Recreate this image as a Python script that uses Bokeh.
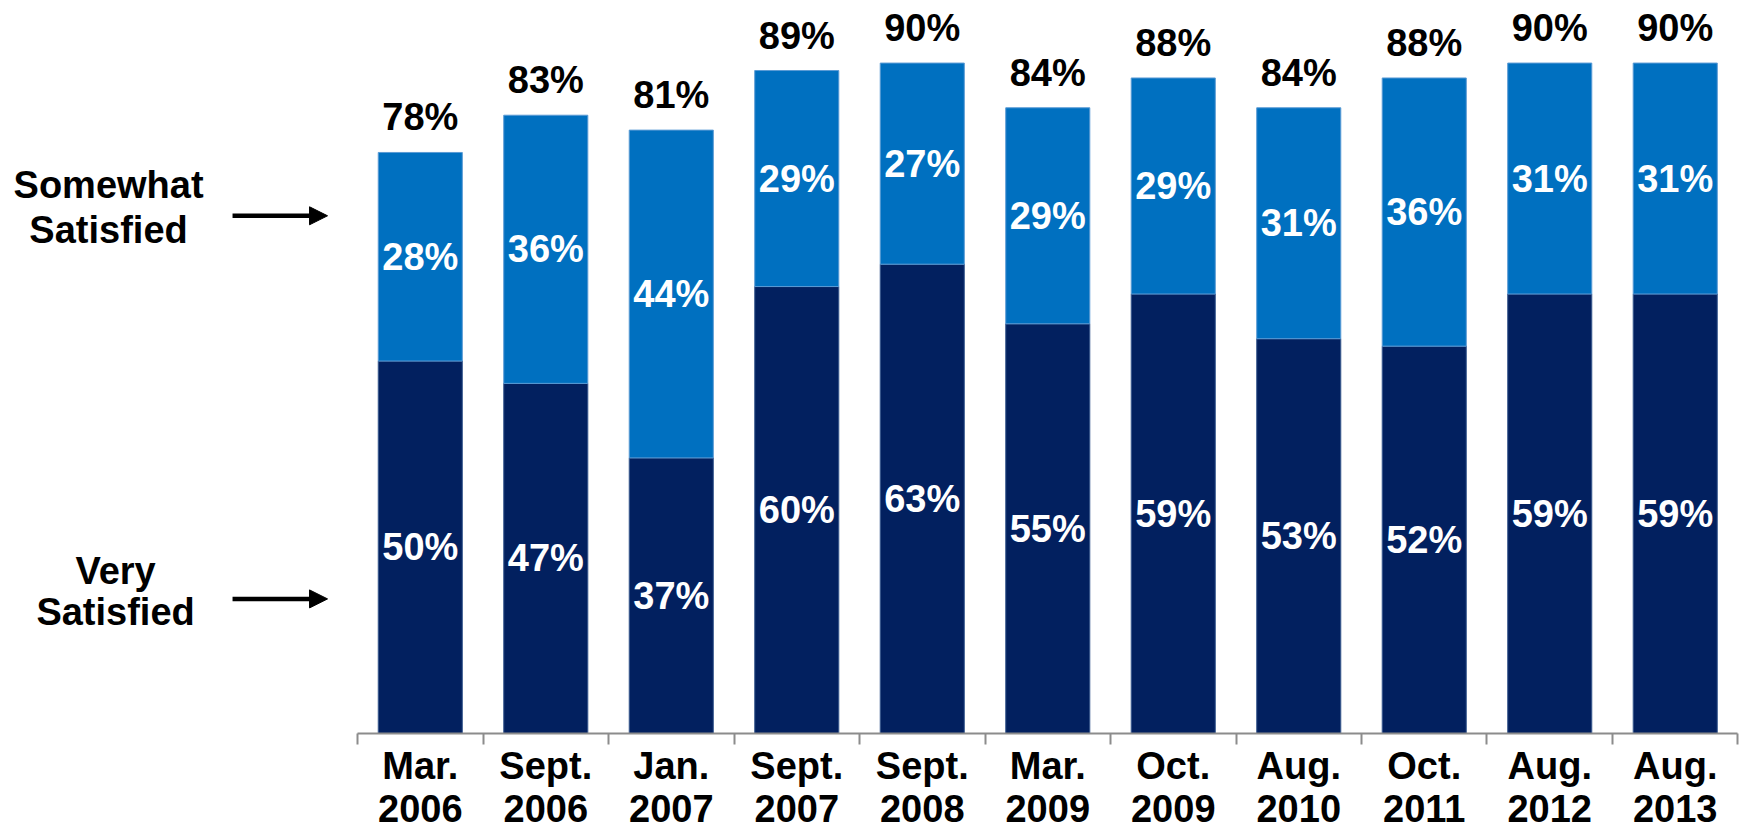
from bokeh.plotting import figure
from bokeh.models import (ColumnDataSource, Range1d, LinearAxis, FixedTicker, Arrow,
                          NormalHead)
from bokeh.core.properties import value
from bokeh.embed import file_html
from bokeh.resources import INLINE

# ---- data ----
categories = ["Mar.\n2006", "Sept.\n2006", "Jan.\n2007", "Sept.\n2007", "Sept.\n2008",
              "Mar.\n2009", "Oct.\n2009", "Aug.\n2010", "Oct.\n2011", "Aug.\n2012", "Aug.\n2013"]
very_satisfied = [50, 47, 37, 60, 63, 55, 59, 53, 52, 59, 59]
somewhat_satisfied = [28, 36, 44, 29, 27, 29, 29, 31, 36, 31, 31]
series_names = ["Very\nSatisfied", "Somewhat\nSatisfied"]

DARK = "#02205F"
LIGHT = "#0070C0"
FONT = "Liberation Sans"
FS = "38px"

n = len(categories)
xs = list(range(n))
totals = [a + b for a, b in zip(very_satisfied, somewhat_satisfied)]
src = ColumnDataSource(dict(
    x=xs,
    very=very_satisfied,
    some_top=totals,
    very_mid=[v / 2 for v in very_satisfied],
    some_mid=[v + s / 2 for v, s in zip(very_satisfied, somewhat_satisfied)],
    very_lbl=[f"{v}%" for v in very_satisfied],
    some_lbl=[f"{s}%" for s in somewhat_satisfied],
    tot_lbl=[f"{t}%" for t in totals],
))

p = figure(width=1740, height=833, output_backend="svg", toolbar_location=None,
           x_range=Range1d(-3.345, 10.52), y_range=Range1d(0, 98.4),
           min_border_left=0, min_border_right=0, min_border_top=0, min_border_bottom=98,
           x_axis_type=None, y_axis_type=None)
p.grid.visible = False
p.outline_line_color = None
p.background_fill_color = "white"
p.border_fill_color = "white"

p.vbar(x="x", width=0.67, bottom=0, top="very", source=src,
       fill_color=DARK, line_color="#3a5a8f", line_width=1)
p.vbar(x="x", width=0.67, bottom="very", top="some_top", source=src,
       fill_color=LIGHT, line_color="#5b9bd5", line_width=1)

common = dict(text_font=value(FONT), text_font_size=FS, text_font_style="bold",
              text_align="center")
p.text(x="x", y="very_mid", text="very_lbl", source=src, text_color="white",
       text_baseline="middle", **common)
p.text(x="x", y="some_mid", text="some_lbl", source=src, text_color="white",
       text_baseline="middle", **common)
p.text(x="x", y="some_top", text="tot_lbl", source=src, text_color="black",
       text_baseline="middle", y_offset=-35, **common)

# left-side series labels with arrows
very_lines = series_names[0].split("\n")
some_lines = series_names[1].split("\n")
p.text(x=[-2.484, -2.484], y=[73.6, 67.6], text=some_lines, text_color="black",
       text_baseline="middle", **common)
p.text(x=[-2.428, -2.428], y=[21.8, 16.3], text=very_lines, text_color="black",
       text_baseline="middle", **common)
for yy in (69.5, 18.07):
    p.add_layout(Arrow(x_start=-1.496, y_start=yy, x_end=-0.739, y_end=yy,
                       line_width=4.5, line_color="black",
                       end=NormalHead(size=18, fill_color="black", line_color="black")))

# category axis with ticks between categories
ax = LinearAxis(ticker=FixedTicker(ticks=xs, minor_ticks=[i - 0.5 for i in range(n + 1)]),
                bounds=(-0.5, n - 0.5))
ax.major_label_overrides = {i: c for i, c in enumerate(categories)}
ax.major_tick_out = 0
ax.major_tick_in = 0
ax.minor_tick_out = 11
ax.minor_tick_in = 0
ax.minor_tick_line_color = "#8c8c8c"
ax.minor_tick_line_width = 2
ax.axis_line_color = "#8c8c8c"
ax.axis_line_width = 2
ax.major_label_text_font = FONT
ax.major_label_text_font_size = FS
ax.major_label_text_font_style = "bold"
ax.major_label_text_color = "black"
ax.major_label_text_line_height = 1.04
ax.major_label_standoff = 0
p.add_layout(ax, "below")

open("out.html", "w").write(file_html(p, INLINE))
